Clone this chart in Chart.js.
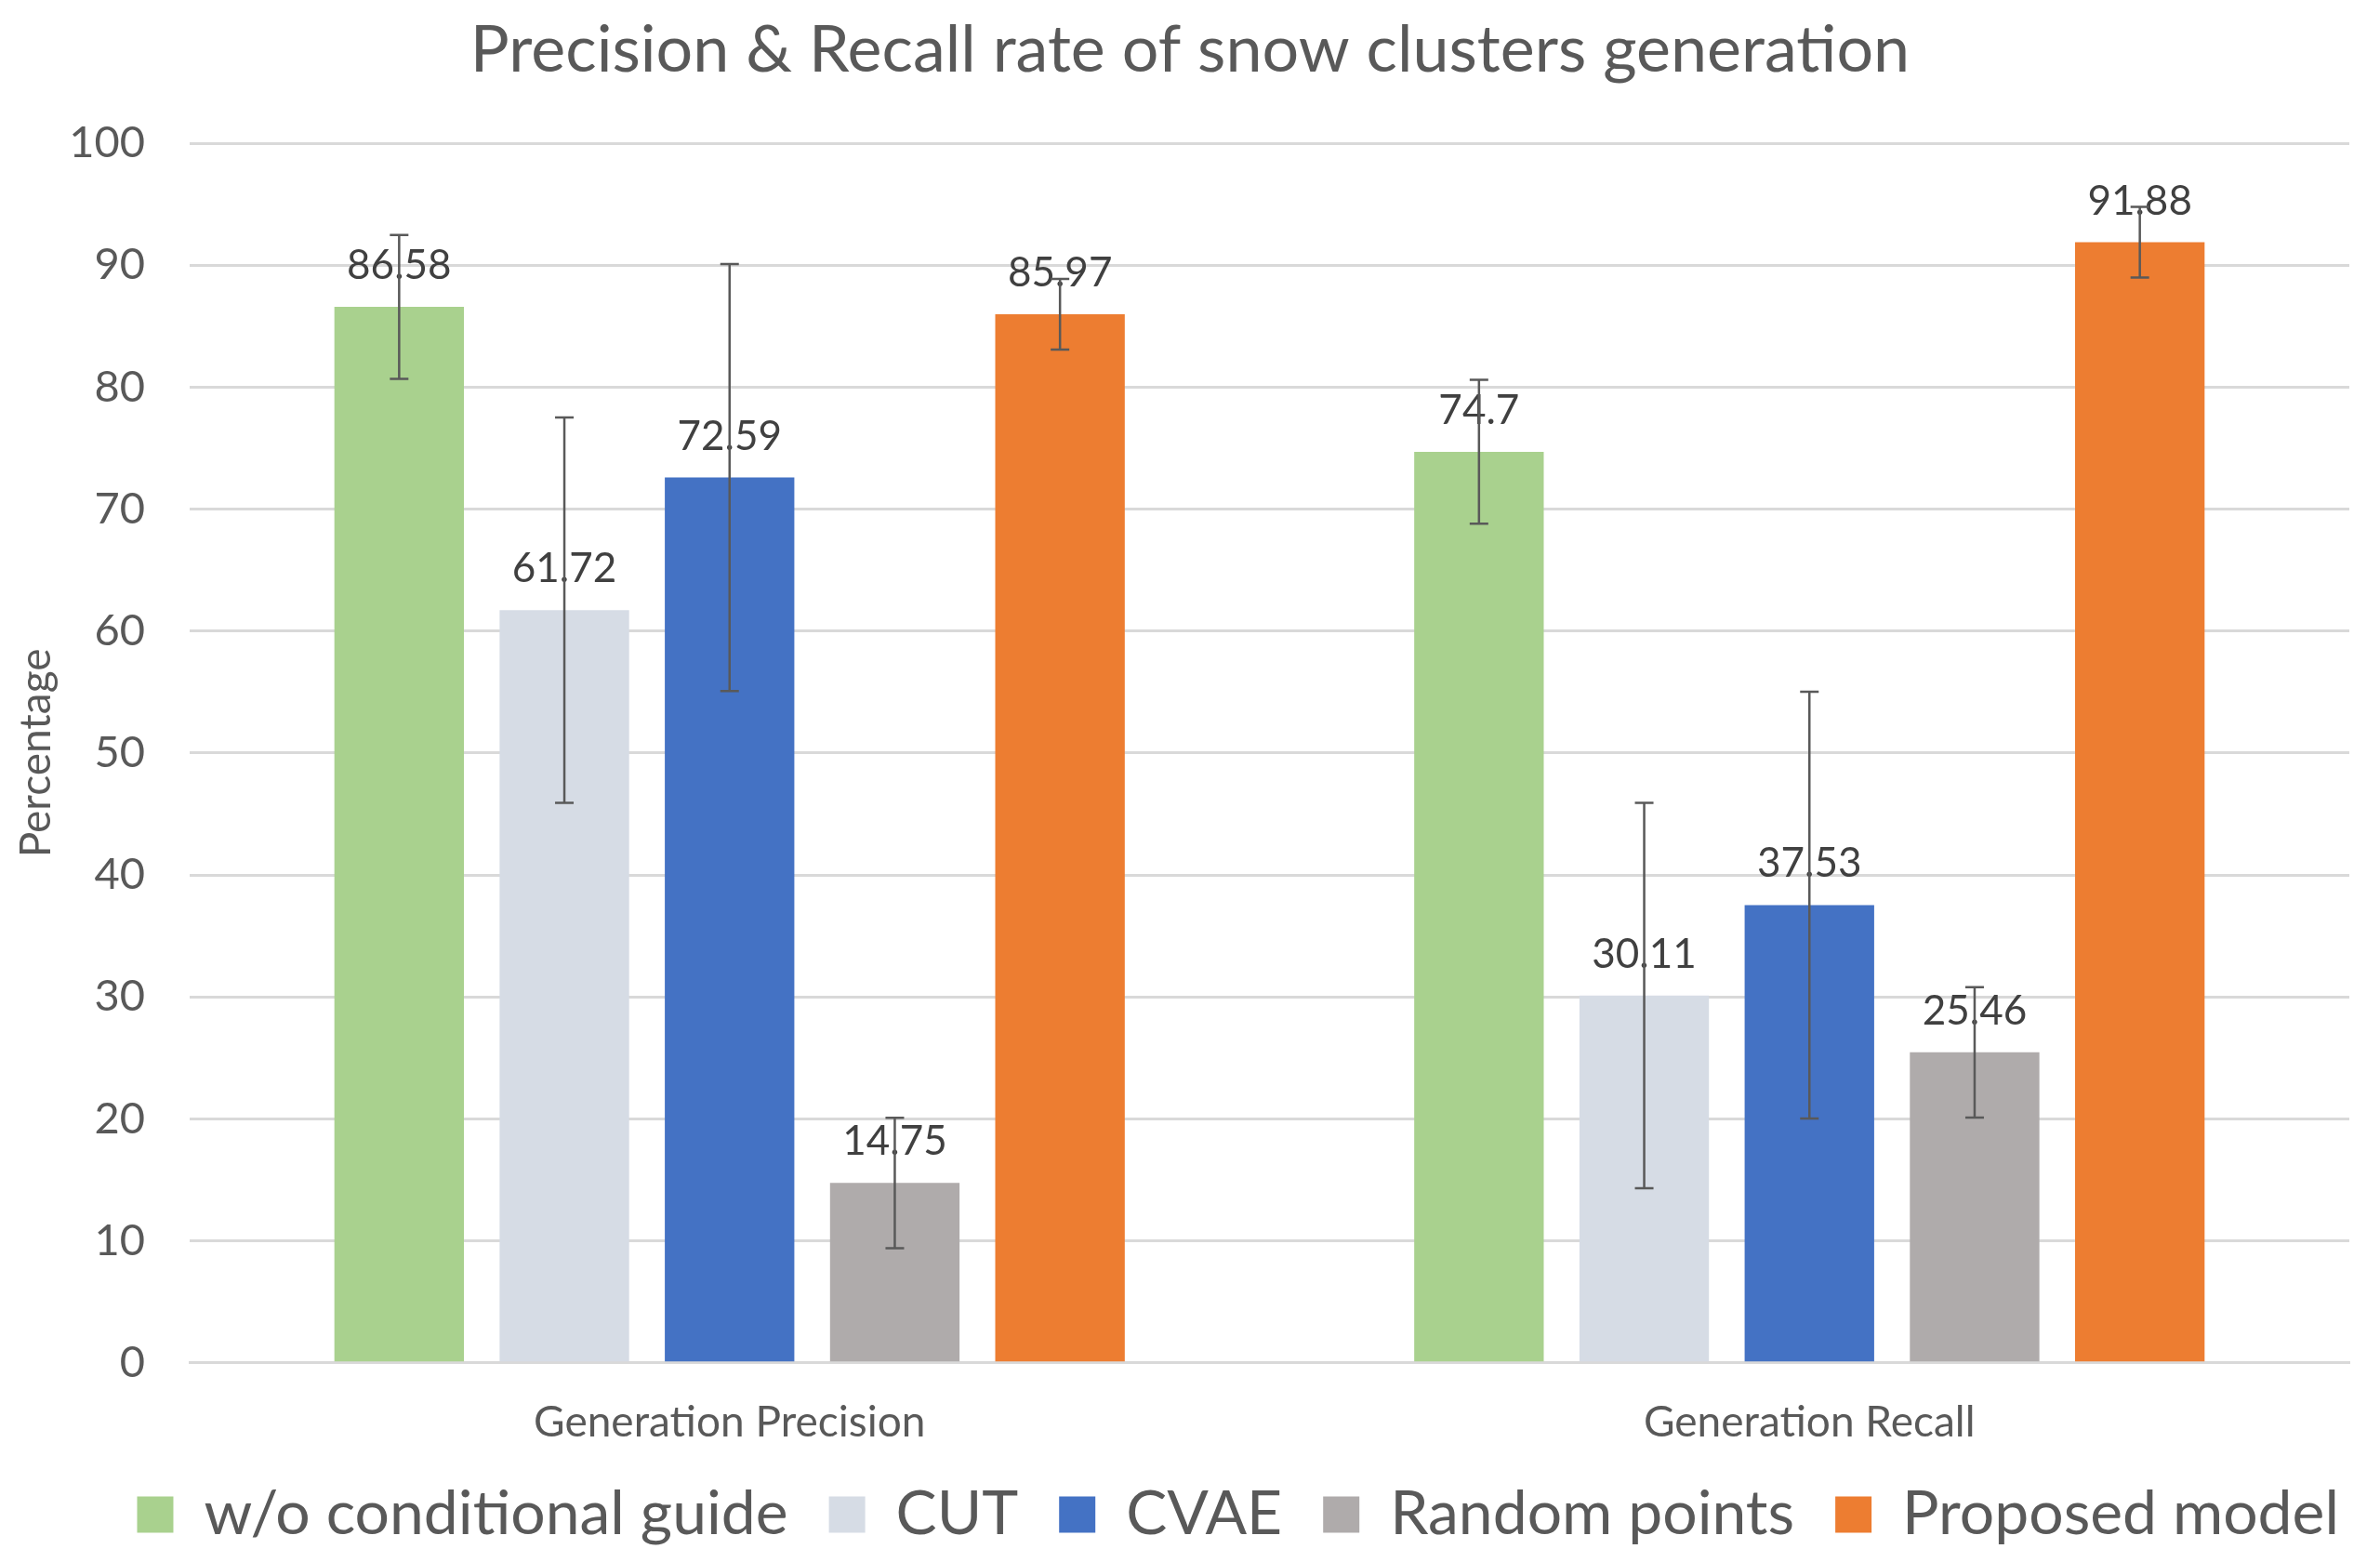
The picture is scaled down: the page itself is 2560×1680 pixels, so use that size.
<!DOCTYPE html>
<html>
<head>
<meta charset="utf-8">
<script src="https://cdn.jsdelivr.net/npm/chart.js@4.4.1/dist/chart.umd.min.js"></script>
<style>
    html, body { margin: 0; padding: 0; background: #ffffff; }
    #wrap { width: 2560px; height: 1680px; }
</style>
</head>
<body>
<div id="wrap"><canvas id="myChart" width="2560" height="1680"></canvas></div>
<script>
const categories = ['Generation Precision', 'Generation Recall'];
const seriesNames = ['w/o conditional guide', 'CUT', 'CVAE', 'Random points', 'Proposed model'];

// values per series: [precision, recall]
const woGuide = [86.58, 74.7];
const cut = [61.72, 30.11];
const cvae = [72.59, 37.53];
const randomPoints = [14.75, 25.46];
const proposed = [85.97, 91.88];

// error bar half-lengths
const woGuideErr = [5.9, 5.9];
const cutErr = [15.8, 15.8];
const cvaeErr = [17.5, 17.5];
const randomPointsErr = [5.35, 5.35];
const proposedErr = [2.9, 2.9];

const yMin = 0;
const yMax = 100;
const yStep = 10;

const colors = ['#A9D18E', '#D6DCE5', '#4472C4', '#AFABAB', '#ED7D31'];
const seriesValues = [woGuide, cut, cvae, randomPoints, proposed];
const seriesErrors = [woGuideErr, cutErr, cvaeErr, randomPointsErr, proposedErr];

const FONT = 'Lato';
const TEXT = '#595959';

// value labels above each bar
const valueLabels = {
    id: 'valueLabels',
    afterDatasetsDraw(chart) {
        const ctx = chart.ctx;
        ctx.save();
        ctx.font = '44px ' + FONT;
        ctx.fillStyle = '#404040';
        ctx.textAlign = 'center';
        ctx.textBaseline = 'alphabetic';
        chart.data.datasets.forEach((ds, i) => {
            const meta = chart.getDatasetMeta(i);
            meta.data.forEach((bar, j) => {
                ctx.fillText(String(ds.data[j]), bar.x, bar.y - 30);
            });
        });
        ctx.restore();
    }
};

// error bars with caps
const errorBars = {
    id: 'errorBars',
    afterDatasetsDraw(chart) {
        const ctx = chart.ctx;
        const y = chart.scales.y;
        ctx.save();
        ctx.strokeStyle = '#595959';
        ctx.lineWidth = 2.5;
        chart.data.datasets.forEach((ds, i) => {
            const meta = chart.getDatasetMeta(i);
            meta.data.forEach((bar, j) => {
                const err = ds.errors[j];
                const top = y.getPixelForValue(ds.data[j] + err);
                const bottom = y.getPixelForValue(ds.data[j] - err);
                const cap = 10;
                ctx.beginPath();
                ctx.moveTo(bar.x, top);
                ctx.lineTo(bar.x, bottom);
                ctx.moveTo(bar.x - cap, top);
                ctx.lineTo(bar.x + cap, top);
                ctx.moveTo(bar.x - cap, bottom);
                ctx.lineTo(bar.x + cap, bottom);
                ctx.stroke();
            });
        });
        ctx.restore();
    }
};

const ctx = document.getElementById('myChart').getContext('2d');

new Chart(ctx, {
    type: 'bar',
    data: {
        labels: categories,
        datasets: seriesNames.map((name, i) => ({
            label: name,
            data: seriesValues[i],
            errors: seriesErrors[i],
            backgroundColor: colors[i],
            borderWidth: 0,
            categoryPercentage: 0.765,
            barPercentage: 0.784
        }))
    },
    options: {
        responsive: false,
        animation: false,
        devicePixelRatio: 1,
        layout: {
            padding: { left: 0, right: 0, top: 0, bottom: 8 }
        },
        plugins: {
            title: {
                display: true,
                text: 'Precision & Recall rate of snow clusters generation',
                color: TEXT,
                font: { family: FONT, size: 70, weight: 'normal' },
                padding: { top: 12, bottom: 58 }
            },
            legend: {
                position: 'bottom',
                align: 'end',
                labels: {
                    color: TEXT,
                    font: { family: FONT, size: 66 },
                    boxWidth: 39,
                    boxHeight: 39,
                    padding: 44
                }
            },
            tooltip: { enabled: false }
        },
        scales: {
            x: {
                grid: { display: false },
                border: { display: true, color: '#D9D9D9', width: 3 },
                ticks: {
                    color: TEXT,
                    font: { family: FONT, size: 46 },
                    padding: 29
                },
                afterFit(scale) {
                    scale.height -= 35;
                }
            },
            y: {
                min: yMin,
                max: yMax,
                ticks: {
                    stepSize: yStep,
                    color: TEXT,
                    font: { family: FONT, size: 47 },
                    padding: 48
                },
                grid: {
                    color: '#D9D9D9',
                    lineWidth: 3,
                    drawTicks: false
                },
                border: { display: false },
                title: {
                    display: true,
                    text: 'Percentage',
                    color: TEXT,
                    font: { family: FONT, size: 46 },
                    padding: { top: 12, bottom: 0 }
                },
                afterFit(scale) {
                    scale.width = 204;
                }
            },
            // empty right margin so the plot ends where the reference does
            yRight: {
                position: 'right',
                grid: { display: false },
                border: { display: false },
                ticks: { display: false },
                afterFit(scale) {
                    scale.width = 33;
                }
            }
        }
    },
    plugins: [valueLabels, errorBars]
});
</script>
</body>
</html>
